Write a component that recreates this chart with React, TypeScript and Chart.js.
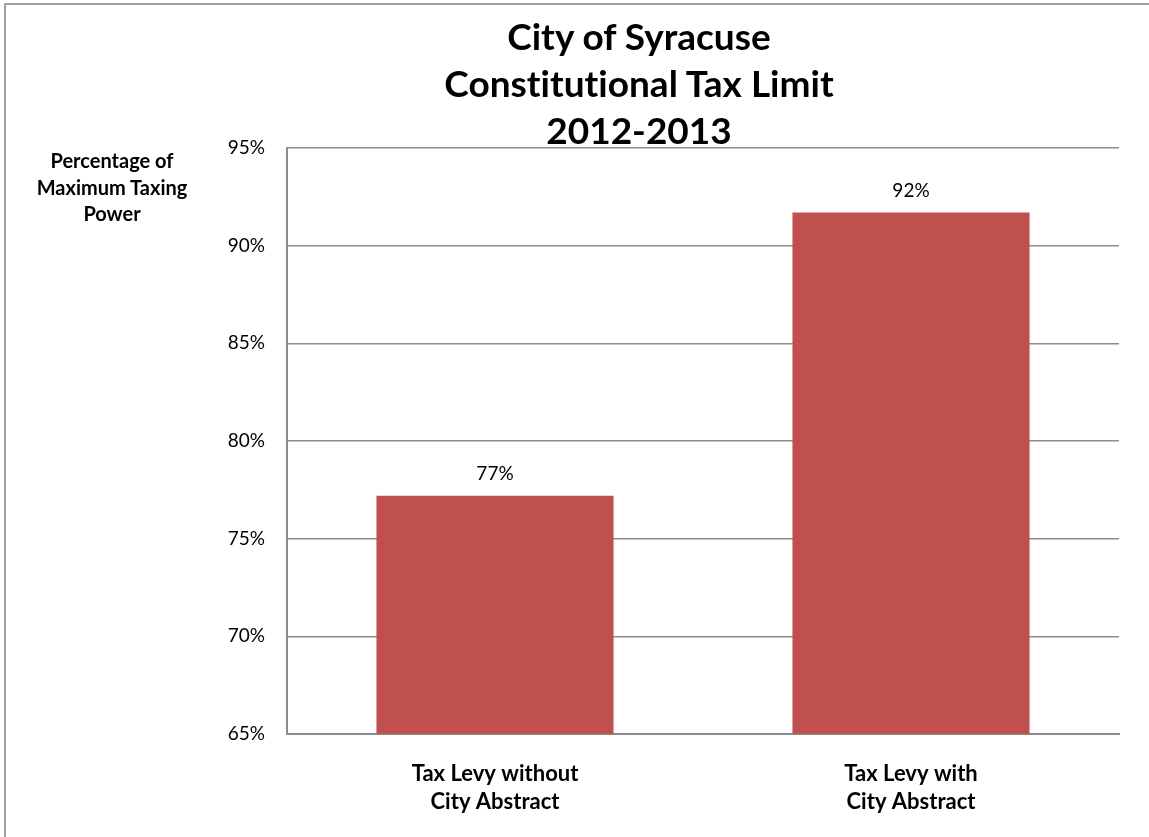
import React, { useEffect, useRef } from "react";
import { Chart, registerables } from "chart.js";

Chart.register(...registerables);

const categories: string[][] = [
  ["Tax Levy without", "City Abstract"],
  ["Tax Levy with", "City Abstract"],
];
const values: number[] = [77.2, 91.7];
const titleLines: string[] = ["City of Syracuse", "Constitutional Tax Limit", "2012-2013"];
const yTitleLines: string[] = ["Percentage of", "Maximum Taxing", "Power"];
const yMin = 65;
const yMax = 95;
const yStep = 5;

const FONT = "Lato, 'Open Sans', sans-serif";

const dataLabelPlugin = {
  id: "dataLabels",
  afterDatasetsDraw(chart: any) {
    const ctx = chart.ctx;
    const meta = chart.getDatasetMeta(0);
    ctx.save();
    ctx.font = `19px ${FONT}`;
    ctx.fillStyle = "#000";
    ctx.textAlign = "center";
    ctx.textBaseline = "bottom";
    meta.data.forEach((bar: any, i: number) => {
      const v = chart.data.datasets[0].data[i] as number;
      ctx.fillText(`${Math.round(v)}%`, bar.x, bar.y - 12);
    });
    ctx.restore();
  },
};

export default function App() {
  const ref = useRef<HTMLCanvasElement>(null);

  useEffect(() => {
    document.body.style.margin = "0";
    const chart = new Chart(ref.current!, {
      type: "bar",
      data: {
        labels: categories,
        datasets: [
          {
            data: values,
            backgroundColor: "#C0504D",
            borderWidth: 0,
            categoryPercentage: 1,
            barPercentage: 0.57,
          },
        ],
      },
      options: {
        animation: false,
        responsive: false,
        devicePixelRatio: 1,
        layout: { padding: { left: 0, top: 148, right: 30, bottom: 0 } },
        plugins: {
          legend: { display: false },
          tooltip: { enabled: false },
          title: { display: false },
        },
        scales: {
          x: {
            grid: { display: false, drawTicks: false },
            border: { display: true, color: "#8C8C8C", width: 2 },
            ticks: {
              color: "#000",
              font: { family: FONT, size: 22, weight: "bold", lineHeight: 1.27 },
              padding: 26,
            },
            afterFit(scale: any) {
              scale.height = 103;
            },
          },
          y: {
            min: yMin,
            max: yMax,
            grid: { color: "#8C8C8C", lineWidth: 1.5, drawTicks: false },
            border: { display: true, color: "#8C8C8C", width: 2 },
            ticks: {
              stepSize: yStep,
              color: "#000",
              font: { family: FONT, size: 19 },
              padding: 22,
              callback: (v: any) => `${v}%`,
            },
            afterFit(scale: any) {
              scale.width = 287;
            },
          },
        },
      },
      plugins: [dataLabelPlugin],
    });
    return () => chart.destroy();
  }, []);

  return (
    <div style={{ position: "relative", width: 1149, height: 837, overflow: "hidden", background: "#fff" }}>
      <div
        style={{
          position: "absolute",
          left: 4,
          top: 3,
          width: 1200,
          height: 900,
          borderTop: "2px solid #A0A0A0",
          borderLeft: "2px solid #A0A0A0",
        }}
      />
      <canvas ref={ref} width={1149} height={837} style={{ position: "absolute", left: 0, top: 0 }} />
      <div
        style={{
          position: "absolute",
          left: 289,
          width: 700,
          top: 12,
          textAlign: "center",
          fontFamily: FONT,
          fontWeight: "bold",
          fontSize: 37,
          lineHeight: "47px",
          fontVariantLigatures: "none",
          color: "#000",
        }}
      >
        {titleLines.map((t, i) => (
          <div key={i}>{t}</div>
        ))}
      </div>
      <div
        style={{
          position: "absolute",
          left: 12,
          width: 200,
          top: 147,
          textAlign: "center",
          fontFamily: FONT,
          fontWeight: "bold",
          fontSize: 20,
          lineHeight: "26.5px",
          color: "#000",
        }}
      >
        {yTitleLines.map((t, i) => (
          <div key={i}>{t}</div>
        ))}
      </div>
    </div>
  );
}
